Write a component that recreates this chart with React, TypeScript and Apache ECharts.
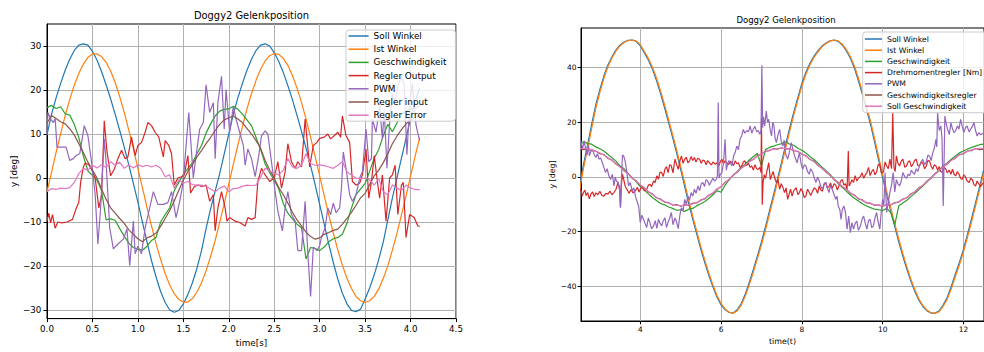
import React, { useEffect, useRef } from 'react';
import * as echarts from 'echarts';

// ---------------- Left chart data (time in s) ----------------
const leftTime = [0, 0.05, 0.1, 0.15, 0.2, 0.25, 0.3, 0.35, 0.4, 0.45, 0.5, 0.55, 0.6, 0.65, 0.7, 0.75, 0.8, 0.85, 0.9, 0.95, 1.0, 1.05, 1.1, 1.15, 1.2, 1.25, 1.3, 1.35, 1.4, 1.45, 1.5, 1.55, 1.6, 1.65, 1.7, 1.75, 1.8, 1.85, 1.9, 1.95, 2.0, 2.05, 2.1, 2.15, 2.2, 2.25, 2.3, 2.35, 2.4, 2.45, 2.5, 2.55, 2.6, 2.65, 2.7, 2.75, 2.8, 2.85, 2.9, 2.95, 3.0, 3.05, 3.1, 3.15, 3.2, 3.25, 3.3, 3.35, 3.4, 3.45, 3.5, 3.55, 3.6, 3.65, 3.7, 3.75, 3.8, 3.85, 3.9, 3.95, 4.0, 4.05, 4.1];

const sollWinkelL = [
  9.8, 14.5, 18.2, 21.5, 24.5, 27.0, 29.0, 30.2, 30.5, 30.2,
  28.8, 26.8, 24.2, 21.2, 18.0, 14.5, 10.8, 7.0, 3.0, -1.2,
  -5.5, -10.0, -14.5, -18.8, -22.5, -25.8, -28.3, -30.0, -30.5, -30.1,
  -28.6, -26.5, -23.8, -20.5, -16.5, -11.5, -7.0, -3.0, 1.0, 5.5,
  10.0, 14.5, 18.2, 21.5, 24.5, 27.0, 29.0, 30.2, 30.5, 30.0,
  28.5, 26.5, 24.0, 21.0, 17.8, 14.3, 10.6, 6.8, 2.8, -1.5,
  -6.0, -10.5, -15.0, -19.2, -23.0, -26.2, -28.6, -30.1, -30.4, -29.8,
  -27.5, -25.0, -22.0, -18.5, -14.5, -9.5, -4.5, 0.0, 4.5, 9.0,
  13.5, 17.5, 20.4,
];

const istWinkelL = [
  -3.1, 1.3, 5.8, 10.1, 14.2, 17.8, 21.1, 23.8, 25.9, 27.4,
  28.2, 28.2, 27.6, 26.3, 24.3, 21.7, 18.5, 14.9, 10.9, 6.7,
  2.2, -2.2, -6.7, -10.9, -14.9, -18.5, -21.7, -24.3, -26.3, -27.6,
  -28.2, -28.2, -27.4, -25.9, -23.8, -21.1, -17.8, -14.2, -10.1, -5.8,
  -1.4, 3.1, 7.5, 11.7, 15.7, 19.2, 22.2, 24.7, 26.6, 27.8,
  28.3, 28.1, 27.2, 25.6, 23.3, 20.5, 17.2, 13.4, 9.3, 4.9,
  0.5, -4.0, -8.4, -12.5, -16.4, -19.8, -22.8, -25.1, -26.9, -27.9,
  -28.3, -27.9, -26.9, -25.2, -22.8, -19.9, -16.4, -12.6, -8.4, -4.1,
  0.4, 4.9, 9.2,
];

const geschwindigkeitL = [
  16, 16.5, 15.8, 16.2, 14.6, 14.3, 12.2, 9.2, 5, 1.6,
  0.6, -0.5, -2.8, -9.5, -9.3, -9.6, -11.5, -13.2, -14.8, -15.8,
  -16.2, -16.4, -15.5, -14.2, -13.5, -10, -8.3, -6.8, -2.8, -1,
  0.8, 2.2, 3.5, 5.5, 7.4, 10.2, 12.3, 14.1, 15.2, 15.6,
  15.7, 16.3, 15.6, 14.5, 13.2, 11.9, 9.2, 6.5, 3.2, 1.2,
  -0.5, -2.5, -5.8, -8, -9.3, -10.5, -11.3, -18.4, -15.8, -16,
  -16.5, -15.7, -14.5, -13.8, -13.5, -12.8, -10.3, -6.8, -3.8, -2.5,
  -1.2, 1.5, 4.5, 6.5, 9.6, 12.2, 10.5, 12.5, 14.5, 15.3,
  15.6, 16, 16.2,
];

const reglerInputL = [
  12.5, 14.2, 13.5, 12.8, 12.3, 11.2, 9.8, 7.8, 5.8, 3.6,
  1.8, 0.0, -2.5, -4.8, -6.8, -8.0, -9.2, -10.3, -11.8, -12.8,
  -13.8, -14.5, -13.6, -13.2, -12.5, -11.0, -9.2, -7.4, -5.2, -2.8,
  -0.5, 1.5, 3.0, 4.8, 6.2, 7.8, 9.2, 10.8, 12.2, 13.2,
  13.7, 14.1, 13.4, 12.6, 11.3, 10.0, 8.5, 6.8, 4.0, 1.8,
  0.0, -2.2, -3.8, -5.7, -7.8, -9.5, -10.9, -12.3, -13.3, -13.9,
  -13.6, -12.8, -12.4, -11.9, -11.6, -10.5, -9.2, -7.8, -6.2, -4.5,
  -3.5, -1.5, 0.5, 1.8, 3.5, 5.5, 7.8, 9.5, 11.0, 12.3,
  13.2, 13.8, 14.2,
];

const reglerErrorL = [
  -3.1, -2.4, -2.6, -2.3, -2.4, -2.2, -1.0, 1.0, 2.2, 1.8,
  2.9, 2.3, 3.0, 2.4, 3.7, 2.9, 3.6, 2.2, 3.0, 2.3,
  3.0, 2.6, 2.9, 2.5, 2.9, 2.2, 0.3, 0.7, -2.3, -0.4,
  -1.2, -0.8, -1.5, -1.6, -1.6, -1.9, -2.5, -3.1, -2.3, -1.8,
  -3.1, -2.4, -2.3, -1.9, -1.6, -1.7, -1.6, 0.2, 2.2, 1.6,
  1.2, 0.7, 1.8, 4.4, 2.5, 2.2, 2.9, 5.5, 3.3, 2.9,
  3.0, 2.8, 2.5, 2.2, 2.9, 3.7, 1.4, 0.7, 0.0, -0.2,
  0.0, -0.4, -1.6, -0.2, -3.1, -3.8, -1.6, -2.3, -2.8, -1.6,
  -2.3, -2.6, -2.7,
];

// noisy series: [time, value]
const reglerOutputL: [number, number][] = [
  [0, -9.8], [0.02, -8.0], [0.04, -10.2], [0.06, -8.3], [0.09, -11.4], [0.12, -10.0], [0.16, -10.2], [0.22, -10.0], [0.28, -9.4], [0.32, -7.0],
  [0.35, -5.5], [0.37, -1.0], [0.4, 2.5], [0.42, 3.4], [0.46, 3.0], [0.49, 2.0], [0.53, 0.0], [0.57, -6.8], [0.6, -4.0], [0.63, 13.0],
  [0.66, 6.0], [0.7, 0.5], [0.74, 2.0], [0.78, 4.4], [0.82, 6.3], [0.86, 4.4], [0.89, 4.8], [0.93, 9.3], [0.97, 5.1], [1.0, 7.4],
  [1.04, 8.1], [1.08, 10.4], [1.11, 12.6], [1.15, 11.9], [1.19, 10.4], [1.23, 9.3], [1.28, 4.8], [1.3, 8.5], [1.34, 7.4], [1.37, 5.5],
  [1.4, -1.6], [1.44, 0.0], [1.48, 0.3], [1.51, 0.7], [1.55, 5.1], [1.58, -3.4], [1.62, -2.0], [1.66, -1.6], [1.7, -1.9], [1.75, -1.6],
  [1.79, -5.3], [1.83, -3.8], [1.85, -12.0], [1.88, -6.8], [1.92, -3.1], [1.96, -6.8], [1.98, -9.8], [2.01, -9.0], [2.07, -9.8], [2.12, -10.1],
  [2.18, -10.9], [2.21, -9.0], [2.25, -9.4], [2.29, -9.0], [2.32, -0.8], [2.36, 2.2], [2.4, 0.7], [2.45, -0.8], [2.5, 0.0], [2.54, 3.7],
  [2.58, -2.3], [2.62, 1.4], [2.65, 7.8], [2.69, 3.7], [2.73, 2.2], [2.76, 3.7], [2.8, 2.5], [2.84, 13.4], [2.89, 2.5], [2.93, 7.4],
  [2.97, 8.1], [3.0, 9.0], [3.05, 9.3], [3.09, 10.0], [3.12, 8.9], [3.16, 9.6], [3.2, 10.4], [3.23, 9.3], [3.25, 14.1], [3.29, 9.6],
  [3.33, 8.1], [3.36, -0.8], [3.4, -1.6], [3.44, -1.2], [3.47, 0.7], [3.51, 6.6], [3.54, -4.6], [3.57, -0.8], [3.6, 5.1], [3.63, 0.0],
  [3.66, -4.6], [3.69, 0.7], [3.73, -9.8], [3.77, 0.0], [3.8, 0.7], [3.83, 2.9], [3.86, -8.3], [3.9, -1.6], [3.92, -1.0], [3.95, -13.5],
  [3.99, -8.3], [4.04, -9.0], [4.08, -10.9], [4.1, -11.0],
];

const pwmL: [number, number][] = [
  [0, 9.8], [0.01, 14.9], [0.04, 13.4], [0.07, 12.6], [0.09, 13.5], [0.11, 7.0], [0.16, 7.0], [0.21, 7.0], [0.25, 4.0], [0.29, 4.4],
  [0.32, 5.1], [0.36, 5.5], [0.41, 11.9], [0.45, 9.6], [0.49, 3.7], [0.53, -3.8], [0.56, -15.0], [0.59, -6.8], [0.63, 8.9], [0.65, 3.7],
  [0.69, -11.3], [0.73, -16.1], [0.78, -15.0], [0.84, -13.9], [0.88, -11.6], [0.91, -19.9], [0.95, -9.8], [0.97, -17.2], [1.0, -15.5], [1.04, -17.2],
  [1.08, -11.3], [1.13, -6.8], [1.17, -3.1], [1.22, -6.0], [1.28, -6.0], [1.33, -5.6], [1.37, -3.1], [1.42, -9.0], [1.46, -5.3], [1.49, -2.0],
  [1.51, 2.2], [1.56, 14.9], [1.61, 0.0], [1.64, 5.1], [1.68, 11.1], [1.72, 12.6], [1.75, 21.2], [1.79, 14.9], [1.83, 17.1], [1.85, 4.4],
  [1.88, 17.1], [1.92, 23.1], [1.95, 11.1], [1.97, 20.1], [2.01, 10.4], [2.05, 16.3], [2.08, 13.4], [2.12, 10.4], [2.16, 7.4], [2.18, 2.9],
  [2.21, 6.6], [2.25, 4.4], [2.29, 0.3], [2.33, 5.1], [2.36, 9.6], [2.4, 10.7], [2.43, 10.0], [2.47, 3.7], [2.51, -3.1], [2.54, -7.5],
  [2.59, -12.0], [2.62, -6.8], [2.65, -3.1], [2.69, -8.3], [2.73, -9.8], [2.76, -16.5], [2.8, -16.5], [2.84, -5.3], [2.87, -17.2], [2.9, -26.9],
  [2.93, -15.7], [2.97, -16.5], [3.0, -15.4], [3.02, -13.5], [3.06, -11.3], [3.09, -6.8], [3.12, -8.3], [3.15, -5.7], [3.18, -7.9], [3.22, -6.8],
  [3.24, -2.3], [3.26, 5.9], [3.29, 2.2], [3.33, -3.8], [3.36, -5.3], [3.4, -3.8], [3.44, 0.0], [3.47, 1.4], [3.51, 11.1], [3.54, 3.7],
  [3.57, 4.4], [3.58, 13.4], [3.62, 10.4], [3.66, 16.3], [3.69, 8.9], [3.71, 15.6], [3.74, 2.2], [3.77, 12.6], [3.8, 19.3], [3.83, 17.1],
  [3.86, 20.8], [3.9, 23.1], [3.93, 21.0], [3.96, 5.3], [3.99, 17.0], [4.02, 21.5], [4.06, 12.0], [4.1, 8.5],
];

// ---------------- Right chart data (time in t) ----------------
const rightTime = [2.5, 2.6, 2.7, 2.8, 2.9, 3.0, 3.1, 3.2, 3.3, 3.4, 3.5, 3.6, 3.7, 3.8, 3.9, 4.0, 4.1, 4.2, 4.3, 4.4, 4.5, 4.6, 4.7, 4.8, 4.9, 5.0, 5.1, 5.2, 5.3, 5.4, 5.5, 5.6, 5.7, 5.8, 5.9, 6.0, 6.1, 6.2, 6.3, 6.4, 6.5, 6.6, 6.7, 6.8, 6.9, 7.0, 7.1, 7.2, 7.3, 7.4, 7.5, 7.6, 7.7, 7.8, 7.9, 8.0, 8.1, 8.2, 8.3, 8.4, 8.5, 8.6, 8.7, 8.8, 8.9, 9.0, 9.1, 9.2, 9.3, 9.4, 9.5, 9.6, 9.7, 9.8, 9.9, 10.0, 10.1, 10.2, 10.3, 10.4, 10.5, 10.6, 10.7, 10.8, 10.9, 11.0, 11.1, 11.2, 11.3, 11.4, 11.5, 11.6, 11.7, 11.8, 11.9, 12.0, 12.1, 12.2, 12.3, 12.4, 12.5];

const sollWinkelR = [
  -3.0, 5.0, 12.0, 19.5, 26.5, 32.0, 37.0, 41.0, 44.0, 46.5,
  48.3, 49.4, 50.0, 50.1, 49.6, 48.0, 45.5, 42.8, 39.5, 35.4,
  30.6, 25.4, 20.0, 14.5, 8.8, 2.8, -3.5, -9.8, -15.5, -21.0,
  -26.5, -31.5, -36.2, -40.3, -44.0, -46.8, -48.6, -49.6, -49.8, -48.6,
  -46.3, -42.8, -38.5, -33.8, -28.9, -23.8, -18.2, -12.3, -6.5, -0.5,
  5.5, 11.8, 18.0, 23.7, 29.0, 34.2, 38.3, 41.6, 44.2, 46.2,
  47.9, 49.0, 49.8, 50.1, 49.6, 48.3, 46.2, 43.5, 39.8, 35.2,
  30.2, 24.8, 19.2, 12.8, 6.2, -0.3, -6.5, -12.5, -18.2, -23.8,
  -29.0, -33.8, -38.2, -42.0, -45.2, -47.5, -49.0, -49.8, -49.8, -49.0,
  -46.8, -44.0, -40.0, -35.5, -31.3, -26.5, -21.0, -15.3, -9.4, -3.5,
  2.5,
];

const istWinkelR = [
  -4.6, 3.5, 10.5, 18.0, 25.2, 31.0, 36.1, 40.3, 43.5, 46.1,
  48.0, 49.2, 49.9, 50.1, 49.8, 48.4, 46.0, 43.4, 40.2, 36.3,
  31.6, 26.5, 21.1, 15.6, 10.0, 4.0, -2.2, -8.6, -14.4, -19.9,
  -25.5, -30.5, -35.3, -39.5, -43.4, -46.3, -48.3, -49.5, -49.9, -49.0,
  -46.9, -43.6, -39.4, -34.8, -29.9, -24.9, -19.4, -13.5, -7.7, -1.7,
  4.3, 10.6, 16.8, 22.6, 28.0, 33.3, 37.6, 41.0, 43.7, 45.8,
  47.6, 48.8, 49.7, 50.1, 49.8, 48.6, 46.7, 44.1, 40.6, 36.2,
  31.2, 25.9, 20.4, 14.1, 7.5, 1.0, -5.3, -11.3, -17.1, -22.7,
  -28.0, -32.9, -37.4, -41.3, -44.7, -47.1, -48.8, -49.7, -49.9, -49.3,
  -47.3, -44.7, -40.9, -36.4, -32.2, -27.5, -22.1, -16.5, -10.6, -4.7,
  1.3,
];

const geschwindigkeitR = [
  11.5, 13.0, 12.2, 12.0, 11.0, 10.3, 9.5, 8.2, 7.0, 5.8,
  4.0, 3.0, 1.2, -0.3, -1.8, -3.5, -4.8, -6.2, -7.5, -8.6,
  -9.7, -10.2, -11.0, -11.5, -12.2, -12.0, -12.6, -11.8, -11.5, -10.5,
  -9.8, -9.0, -7.8, -6.5, -5.0, -5.6, -3.0, -1.0, 0.6, 2.0,
  3.5, 4.8, 6.2, 7.5, 8.6, 4.0, 10.0, 10.8, 11.3, 11.8,
  12.2, 12.9, 12.0, 11.6, 10.5, 9.8, 8.8, 7.5, 6.4, 5.0,
  3.6, 2.3, 0.8, -0.8, -2.4, -3.8, -5.2, -6.6, -7.8, -8.8,
  -9.8, -10.6, -11.2, -11.8, -12.0, -12.3, -11.5, -13.0, -17.5, -10.5,
  -9.5, -8.5, -7.2, -6.0, -4.6, -3.2, -1.8, -0.3, 1.2, 2.6,
  3.9, 5.2, 6.5, 7.7, 8.8, 9.5, 10.2, 10.8, 11.3, 11.8,
  12.0,
];

const geschwReglerR = [
  10.2, 10.0, 10.4, 9.6, 9.5, 8.5, 8.2, 6.8, 6.2, 4.7,
  3.8, 2.2, 1.3, -0.5, -1.4, -3.1, -3.9, -5.5, -6.2, -7.6,
  -8.1, -9.2, -9.4, -10.3, -10.1, -10.7, -10.2, -10.4, -9.6, -9.5,
  -8.4, -8.0, -6.6, -6.0, -4.4, -3.6, -1.9, -1.0, 0.7, 1.7,
  3.3, 4.2, 5.8, 6.4, 7.8, 8.3, 9.4, 9.6, 10.4, 10.2,
  10.7, 10.2, 10.4, 9.6, 9.4, 8.3, 7.8, 6.4, 5.8, 4.2,
  3.3, 1.7, 0.7, -1.0, -1.9, -3.6, -4.4, -6.0, -6.6, -8.0,
  -8.4, -9.5, -9.6, -10.4, -10.2, -10.7, -10.2, -10.3, -9.4, -9.2,
  -8.1, -7.6, -6.2, -5.5, -3.9, -3.1, -1.4, -0.5, 1.3, 2.2,
  3.8, 4.7, 6.2, 6.8, 8.2, 8.5, 9.5, 9.6, 10.4, 10.0,
  10.2,
];

const sollGeschwR = [
  10.5, 10.5, 10.3, 9.9, 9.4, 8.8, 8.0, 7.0, 6.0, 4.9,
  3.6, 2.4, 1.1, -0.3, -1.6, -2.9, -4.1, -5.3, -6.4, -7.4,
  -8.3, -9.0, -9.6, -10.1, -10.4, -10.5, -10.4, -10.2, -9.8, -9.3,
  -8.6, -7.8, -6.8, -5.8, -4.6, -3.4, -2.1, -0.8, 0.5, 1.9,
  3.1, 4.4, 5.6, 6.6, 7.6, 8.5, 9.2, 9.8, 10.2, 10.4,
  10.5, 10.4, 10.2, 9.8, 9.2, 8.5, 7.6, 6.6, 5.6, 4.4,
  3.1, 1.9, 0.5, -0.8, -2.1, -3.4, -4.6, -5.8, -6.8, -7.8,
  -8.6, -9.3, -9.8, -10.2, -10.4, -10.5, -10.4, -10.1, -9.6, -9.0,
  -8.3, -7.4, -6.4, -5.3, -4.1, -2.9, -1.6, -0.3, 1.1, 2.4,
  3.6, 4.9, 6.0, 7.0, 8.0, 8.8, 9.4, 9.9, 10.3, 10.5,
  10.5,
];

const drehmomentR: [number, number][] = [
  [2.5, -5.0], [2.53, -4.5], [2.56, -7.0], [2.6, -5.5], [2.63, -4.8], [2.66, -6.8], [2.7, -5.7], [2.74, -8.0], [2.78, -6.2], [2.82, -5.5],
  [2.86, -7.2], [2.9, -5.8], [2.95, -6.5], [3.0, -5.2], [3.05, -6.8], [3.1, -7.0], [3.15, -6.0], [3.2, -6.3], [3.25, -5.2], [3.3, -6.5],
  [3.35, -5.7], [3.4, -4.5], [3.45, -2.0], [3.49, -4.0], [3.51, -11.2], [3.53, -3.5], [3.56, 1.0], [3.59, -0.9], [3.63, -3.5], [3.67, -4.5],
  [3.72, -6.0], [3.77, -4.6], [3.82, -5.8], [3.88, -5.1], [3.93, -3.8], [3.97, -5.5], [4.04, -3.3], [4.1, -5.0], [4.16, -4.5], [4.2, -3.0],
  [4.24, -2.7], [4.28, -3.5], [4.33, -1.5], [4.37, -2.0], [4.41, 0.4], [4.45, -0.8], [4.49, 1.8], [4.53, 1.6], [4.57, 0.2], [4.61, 2.8],
  [4.65, 3.8], [4.69, 1.6], [4.73, 4.5], [4.77, 4.0], [4.81, 1.5], [4.86, 6.5], [4.9, 4.5], [4.94, 2.8], [4.98, 5.8], [5.02, 7.7],
  [5.06, 5.0], [5.1, 6.5], [5.14, 7.2], [5.18, 5.2], [5.22, 5.9], [5.26, 7.5], [5.3, 6.0], [5.34, 7.1], [5.38, 5.5], [5.42, 6.8],
  [5.47, 6.5], [5.51, 5.0], [5.55, 6.2], [5.59, 5.9], [5.63, 4.5], [5.67, 6.0], [5.71, 5.2], [5.76, 4.4], [5.8, 5.5], [5.86, 4.6],
  [5.9, 5.2], [5.94, 4.0], [5.98, 5.5], [6.02, 6.5], [6.06, 4.8], [6.1, 5.9], [6.15, 5.0], [6.19, 4.6], [6.23, 5.8], [6.27, 5.2],
  [6.31, 4.2], [6.35, 5.9], [6.39, 4.8], [6.43, 5.2], [6.47, 3.5], [6.51, 4.0], [6.55, 5.5], [6.59, 5.9], [6.63, 4.2], [6.68, 5.0],
  [6.72, 3.5], [6.76, 4.0], [6.8, 2.5], [6.84, 4.5], [6.88, 3.0], [6.92, 2.8], [6.96, 3.5], [6.99, 1.6], [7.0, 21.5], [7.02, -10.2],
  [7.04, -2.0], [7.07, 0.8], [7.1, -0.5], [7.14, 2.5], [7.18, 5.2], [7.22, -1.0], [7.25, 0.4], [7.29, 2.0], [7.33, -0.5], [7.37, -2.0],
  [7.41, -1.0], [7.45, -4.5], [7.49, -2.5], [7.53, -3.8], [7.57, -5.7], [7.61, -4.0], [7.65, -8.2], [7.69, -6.0], [7.72, -4.5], [7.76, -7.0],
  [7.8, -5.0], [7.86, -3.9], [7.9, -6.5], [7.94, -5.7], [7.98, -4.2], [8.02, -5.5], [8.06, -7.5], [8.1, -7.0], [8.14, -4.5], [8.18, -5.5],
  [8.22, -6.8], [8.27, -5.0], [8.31, -4.0], [8.35, -4.5], [8.39, -6.0], [8.43, -3.3], [8.47, -4.8], [8.51, -5.2], [8.55, -2.8], [8.59, -2.0],
  [8.63, -4.0], [8.67, -3.5], [8.71, -2.2], [8.75, -4.2], [8.8, -2.5], [8.84, -3.0], [8.88, -4.8], [8.92, -3.2], [8.96, -1.5], [9.0, -0.9],
  [9.04, -3.0], [9.08, -2.5], [9.12, -4.5], [9.15, 9.5], [9.17, -3.3], [9.2, -2.5], [9.24, -1.0], [9.28, -2.0], [9.32, 0.5], [9.36, -1.5],
  [9.4, -0.5], [9.45, 0.2], [9.49, 1.5], [9.53, -0.5], [9.57, 0.8], [9.61, 1.6], [9.65, 3.5], [9.69, 0.5], [9.73, 2.0], [9.77, 2.8],
  [9.81, 0.8], [9.85, 1.8], [9.89, 4.5], [9.93, 4.6], [9.97, 1.5], [10.02, 1.8], [10.06, 5.5], [10.1, 4.0], [10.14, 3.0], [10.18, 6.5],
  [10.22, 3.0], [10.25, 23.5], [10.28, 3.5], [10.31, 2.0], [10.34, 7.7], [10.38, 5.0], [10.42, 4.0], [10.46, 5.8], [10.5, 6.5], [10.55, 3.5],
  [10.59, 4.0], [10.63, 5.5], [10.67, 5.9], [10.71, 3.8], [10.75, 4.6], [10.79, 6.0], [10.83, 6.5], [10.87, 4.2], [10.91, 4.0], [10.95, 5.5],
  [10.99, 5.2], [11.04, 3.0], [11.08, 4.0], [11.12, 6.0], [11.16, 5.9], [11.2, 4.0], [11.24, 2.8], [11.28, 4.5], [11.32, 4.0], [11.36, 2.5],
  [11.4, 3.8], [11.44, 2.0], [11.48, 1.6], [11.52, 3.5], [11.56, 3.0], [11.6, 1.5], [11.65, 2.5], [11.69, 1.0], [11.73, 2.8], [11.77, 1.0],
  [11.81, 0.4], [11.85, 2.0], [11.89, 1.0], [11.93, -0.5], [11.97, -0.9], [12.01, 0.8], [12.05, 0.0], [12.09, -1.5], [12.14, -2.0], [12.18, -0.5],
  [12.22, -1.0], [12.26, -2.8], [12.3, -3.3], [12.34, -1.5], [12.38, -2.5], [12.42, -3.5], [12.5, -2.0],
];

const pwmR: [number, number][] = [
  [2.5, 11.0], [2.53, 13.2], [2.57, 10.1], [2.61, 13.2], [2.64, 11.0], [2.68, 8.0], [2.72, 11.5], [2.74, 7.7], [2.78, 9.5], [2.82, 10.1],
  [2.86, 8.2], [2.9, 7.1], [2.94, 8.5], [2.98, 6.5], [3.02, 7.0], [3.06, 5.2], [3.1, 3.5], [3.14, 1.6], [3.18, 3.0], [3.22, 0.5],
  [3.27, -0.9], [3.31, 1.0], [3.35, -3.3], [3.38, 0.0], [3.41, -1.5], [3.45, -2.0], [3.49, -5.0], [3.51, -11.2], [3.53, -2.0], [3.56, 8.0],
  [3.59, 7.7], [3.63, 5.5], [3.67, 1.6], [3.71, -3.3], [3.75, -2.0], [3.8, -5.0], [3.84, -4.0], [3.88, -7.0], [3.92, -9.0], [3.96, -10.6],
  [4.0, -16.7], [4.04, -14.0], [4.08, -15.5], [4.12, -17.0], [4.16, -18.5], [4.2, -15.0], [4.24, -16.7], [4.28, -19.0], [4.33, -17.9], [4.37, -16.0],
  [4.41, -18.8], [4.45, -15.5], [4.49, -17.0], [4.53, -17.9], [4.57, -16.0], [4.61, -14.9], [4.65, -18.5], [4.69, -16.5], [4.73, -15.0], [4.77, -13.0],
  [4.81, -17.5], [4.86, -15.0], [4.9, -16.5], [4.94, -18.9], [4.98, -14.0], [5.02, -11.2], [5.06, -12.5], [5.1, -8.2], [5.14, -10.0], [5.18, -7.0],
  [5.22, -8.5], [5.26, -5.7], [5.3, -7.0], [5.34, -4.5], [5.38, -6.0], [5.43, -3.3], [5.47, -5.0], [5.51, -2.5], [5.55, -2.0], [5.59, -3.5],
  [5.63, -1.0], [5.67, -1.5], [5.71, -3.0], [5.75, -1.8], [5.8, -0.5], [5.84, -1.5], [5.88, -0.9], [5.91, 0.5], [5.93, 27.2], [5.95, -0.5],
  [5.98, 1.0], [6.02, 1.6], [6.06, 5.0], [6.1, 13.8], [6.13, 2.5], [6.15, 4.0], [6.19, 6.0], [6.23, 5.2], [6.27, 4.0], [6.31, 7.7],
  [6.35, 9.0], [6.39, 11.3], [6.43, 10.0], [6.47, 13.8], [6.51, 15.0], [6.55, 17.4], [6.59, 16.0], [6.64, 17.0], [6.68, 16.5], [6.72, 18.7],
  [6.76, 16.0], [6.8, 17.5], [6.84, 18.5], [6.88, 16.5], [6.92, 17.0], [6.96, 15.6], [6.99, 17.0], [7.01, 40.9], [7.03, 18.0], [7.05, 22.0],
  [7.08, 18.7], [7.12, 24.1], [7.15, 20.0], [7.18, 21.1], [7.22, 17.0], [7.25, 15.0], [7.28, 20.0], [7.31, 18.7], [7.34, 14.0], [7.37, 12.6],
  [7.41, 15.5], [7.45, 17.4], [7.49, 13.0], [7.53, 11.3], [7.56, 13.5], [7.59, 8.9], [7.62, 7.5], [7.65, 6.5], [7.69, 9.0], [7.74, 12.6],
  [7.78, 10.0], [7.82, 7.7], [7.86, 6.0], [7.88, 5.2], [7.91, 7.0], [7.94, 8.9], [7.98, 5.0], [8.02, 2.8], [8.06, 4.5], [8.1, 4.0],
  [8.14, 2.0], [8.18, 1.0], [8.22, 3.0], [8.27, 1.6], [8.31, -0.5], [8.35, -2.0], [8.39, 0.0], [8.43, -1.5], [8.47, -3.5], [8.51, -4.5],
  [8.55, -2.5], [8.59, -2.0], [8.63, -4.0], [8.67, -5.7], [8.71, -3.0], [8.75, -4.5], [8.8, -6.5], [8.84, -8.2], [8.87, -7.0], [8.9, -10.6],
  [8.94, -12.0], [8.97, -15.5], [9.0, -12.0], [9.04, -10.6], [9.08, -13.0], [9.12, -19.1], [9.16, -14.3], [9.2, -20.4], [9.24, -16.7], [9.28, -19.1],
  [9.32, -17.0], [9.36, -16.1], [9.4, -19.5], [9.45, -17.9], [9.49, -15.5], [9.53, -14.3], [9.57, -17.0], [9.61, -19.1], [9.65, -16.0], [9.69, -15.5],
  [9.73, -18.5], [9.77, -18.0], [9.81, -15.0], [9.85, -13.0], [9.89, -16.5], [9.93, -19.1], [9.97, -12.0], [10.0, -8.2], [10.03, -10.5], [10.06, 1.6],
  [10.08, -7.0], [10.1, -13.0], [10.14, -9.0], [10.18, -5.7], [10.22, -3.0], [10.26, 1.6], [10.3, -5.5], [10.34, -1.0], [10.38, -2.5], [10.42, -3.3],
  [10.46, -1.5], [10.5, 1.6], [10.55, 0.0], [10.59, -0.5], [10.63, 1.0], [10.67, 0.5], [10.71, 2.5], [10.75, 1.6], [10.79, 1.0], [10.83, 3.0],
  [10.87, 2.0], [10.91, 4.0], [10.95, 5.0], [10.99, 6.5], [11.04, 4.5], [11.08, 5.5], [11.12, 8.0], [11.16, 7.7], [11.2, 6.0], [11.24, 8.9],
  [11.28, 10.5], [11.32, 13.8], [11.34, 11.0], [11.36, 23.5], [11.4, 17.0], [11.44, 18.7], [11.47, 14.0], [11.5, -10.6], [11.52, 5.0], [11.54, 22.3],
  [11.58, 19.0], [11.61, 17.4], [11.65, 15.5], [11.69, 19.9], [11.73, 17.5], [11.77, 16.2], [11.81, 17.0], [11.85, 18.7], [11.89, 17.5], [11.93, 21.1],
  [11.97, 18.5], [12.01, 16.2], [12.05, 18.0], [12.09, 18.7], [12.14, 16.5], [12.18, 17.5], [12.22, 18.5], [12.26, 19.9], [12.3, 17.0], [12.34, 15.0],
  [12.38, 16.2], [12.42, 15.5], [12.5, 16.0],
];

// ---------------- Labels / ticks ----------------
const leftNames = ['Soll Winkel', 'Ist Winkel', 'Geschwindigkeit', 'Regler Output', 'PWM', 'Regler input', 'Regler Error'];
const rightNames = ['Soll Winkel', 'Ist Winkel', 'Geschwindigkeit', 'Drehmomentregler [Nm]', 'PWM', 'Geschwindigkeitsregler', 'Soll Geschwindigkeit'];
const leftYTicks = [-30, -20, -10, 0, 10, 20, 30];
const rightXTicks = [4, 6, 8, 10, 12];
const rightYTicks = [-40, -20, 0, 20, 40];
const titleText = 'Doggy2 Gelenkposition';

const COLORS = ['#1f77b4', '#ff7f0e', '#2ca02c', '#d62728', '#9467bd', '#8c564b', '#e377c2'];
const FONT = "'DejaVu Sans', sans-serif";

const zip = (t: number[], v: number[]) => t.map((x, i) => [x, v[i]]);
const fmt = (v: number, d: number) => {
  const s = Math.abs(v).toFixed(d);
  return v < 0 ? '\u2212' + s : s;
};

export default function App() {
  const ref = useRef<HTMLDivElement>(null);
  useEffect(() => {
    const chart = echarts.init(ref.current as HTMLDivElement, null, { renderer: 'svg' });

    const line = (name: string, data: any[], color: string, idx: number) => ({
      type: 'line',
      name,
      xAxisIndex: idx,
      yAxisIndex: idx,
      data,
      symbol: 'none',
      showSymbol: false,
      clip: true,
      lineStyle: { color, width: 1.2 },
      itemStyle: { color },
      emphasis: { disabled: true },
    });

    const axisCommon = (fs: number) => ({
      axisLine: { show: true, onZero: false, lineStyle: { color: '#000', width: 1 } },
      splitLine: { show: true, lineStyle: { color: '#b0b0b0', width: 1 } },
      nameTextStyle: { fontFamily: FONT, fontSize: fs, color: '#000' },
    });

    const option: any = {
      animation: false,
      grid: [
        { left: 47, top: 24, width: 409, height: 299, show: true, borderColor: '#000', borderWidth: 1, backgroundColor: 'transparent' },
        { left: 581, top: 28, width: 408, height: 293, show: true, borderColor: '#000', borderWidth: 1, backgroundColor: 'transparent' },
      ],
      xAxis: [
        {
          type: 'value', gridIndex: 0, min: 0, max: 4.5, interval: 0.5,
          name: 'time[s]', nameLocation: 'middle', nameGap: 18,
          ...axisCommon(8.8),
          axisTick: { show: true, length: 3.5, lineStyle: { color: '#000' } },
          axisLabel: { formatter: (v: number) => v.toFixed(1), fontFamily: FONT, fontSize: 8.7, color: '#000', margin: 5.5 },
        },
        {
          type: 'value', gridIndex: 1, min: 2.533, max: 12.509,
          name: 'time(t)', nameLocation: 'middle', nameGap: 15,
          ...axisCommon(7.9),
          axisTick: { show: true, length: 3.3, lineStyle: { color: '#000' }, customValues: rightXTicks },
          axisLabel: { customValues: rightXTicks, formatter: (v: number) => fmt(v, 0), fontFamily: FONT, fontSize: 7.4, color: '#000', margin: 5 },
        },
      ],
      yAxis: [
        {
          type: 'value', gridIndex: 0, min: -31.95, max: 35,
          name: 'y [deg]', nameLocation: 'middle', nameGap: 28.5,
          ...axisCommon(8.8),
          axisTick: { show: true, length: 3.5, lineStyle: { color: '#000' }, customValues: leftYTicks },
          axisLabel: { customValues: leftYTicks, formatter: (v: number) => fmt(v, 0), fontFamily: FONT, fontSize: 8.7, color: '#000', margin: 5.6 },
        },
        {
          type: 'value', gridIndex: 1, min: -52.7, max: 54.5,
          name: 'y [deg]', nameLocation: 'middle', nameGap: 24.3,
          ...axisCommon(7.9),
          axisTick: { show: true, length: 3.3, lineStyle: { color: '#000' }, customValues: rightYTicks },
          axisLabel: { customValues: rightYTicks, formatter: (v: number) => fmt(v, 0), fontFamily: FONT, fontSize: 7.4, color: '#000', margin: 4.6 },
        },
      ],
      legend: [
        {
          orient: 'vertical', left: 346, top: 30, data: leftNames,
          icon: 'rect', itemWidth: 20, itemHeight: 1.5, itemGap: 3.2,
          padding: [1, 9, 1, 2.6],
          backgroundColor: 'rgba(255,255,255,0.8)', borderColor: '#cccccc', borderWidth: 1, borderRadius: 3,
          textStyle: { fontFamily: FONT, fontSize: 8.9, color: '#000', lineHeight: 10 },
          selectedMode: false,
        },
        {
          orient: 'vertical', left: 862.7, top: 32, data: rightNames,
          icon: 'rect', itemWidth: 17, itemHeight: 1.5, itemGap: 2.2,
          padding: [2.5, 9, 2, 2.3],
          backgroundColor: 'rgba(255,255,255,0.8)', borderColor: '#cccccc', borderWidth: 1, borderRadius: 3,
          textStyle: { fontFamily: FONT, fontSize: 7.7, color: '#000', lineHeight: 9 },
          selectedMode: false,
        },
      ],
      graphic: [
        { type: 'text', x: 251.5, y: 15.3, style: { text: titleText, fontFamily: FONT, fontSize: 9.9, fill: '#000', align: 'center', verticalAlign: 'middle', textAlign: 'center', textVerticalAlign: 'middle' } },
        { type: 'text', x: 786, y: 20, style: { text: titleText, fontFamily: FONT, fontSize: 8.5, fill: '#000', align: 'center', verticalAlign: 'middle', textAlign: 'center', textVerticalAlign: 'middle' } },
      ],
      series: [
        line(leftNames[0], zip(leftTime, sollWinkelL), COLORS[0], 0),
        line(leftNames[1], zip(leftTime, istWinkelL), COLORS[1], 0),
        line(leftNames[2], zip(leftTime, geschwindigkeitL), COLORS[2], 0),
        line(leftNames[3], reglerOutputL, COLORS[3], 0),
        line(leftNames[4], pwmL, COLORS[4], 0),
        line(leftNames[5], zip(leftTime, reglerInputL), COLORS[5], 0),
        line(leftNames[6], zip(leftTime, reglerErrorL), COLORS[6], 0),
        line(rightNames[0], zip(rightTime, sollWinkelR), COLORS[0], 1),
        line(rightNames[1], zip(rightTime, istWinkelR), COLORS[1], 1),
        line(rightNames[2], zip(rightTime, geschwindigkeitR), COLORS[2], 1),
        line(rightNames[3], drehmomentR, COLORS[3], 1),
        line(rightNames[4], pwmR, COLORS[4], 1),
        line(rightNames[5], zip(rightTime, geschwReglerR), COLORS[5], 1),
        line(rightNames[6], zip(rightTime, sollGeschwR), COLORS[6], 1),
      ],
    };

    chart.setOption(option);
    return () => chart.dispose();
  }, []);

  return <div ref={ref} style={{ position: 'absolute', left: 0, top: 0, width: 984, height: 352 }} />;
}
